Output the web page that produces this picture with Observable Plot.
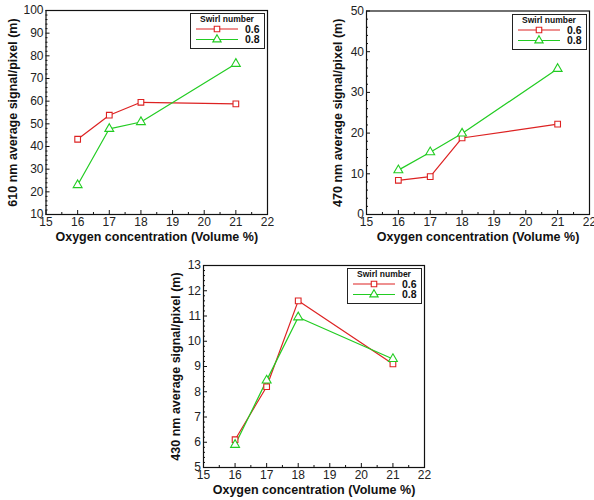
<!DOCTYPE html>
<html><head><meta charset="utf-8">
<script src="https://cdn.jsdelivr.net/npm/d3@7"></script>
<script src="https://cdn.jsdelivr.net/npm/@observablehq/plot@0.6"></script>
<style>
body{margin:0;background:#fff;font-family:"Liberation Sans",Arial,sans-serif;}
#root{position:relative;width:594px;height:500px;overflow:hidden;}
.pan{position:absolute;overflow:visible;}
.leg{position:absolute;}
</style></head>
<body><div id="root"></div>
<script>
// ---- data ----
const oxygen = [16, 17, 18, 21];
const swirlNumbers = ["0.6", "0.8"];
const xMajor = [15, 16, 17, 18, 19, 20, 21, 22];
const xMinor = [15.5, 16.5, 17.5, 18.5, 19.5, 20.5, 21.5];
const xTitle = "Oxygen concentration (Volume %)";

const s610_06 = [43.2, 53.8, 59.5, 58.8];
const s610_08 = [23.0, 47.8, 50.8, 76.5];
const s470_06 = [8.4, 9.3, 18.8, 22.2];
const s470_08 = [10.9, 15.3, 19.9, 35.8];
const s430_06 = [6.1, 8.2, 11.6, 9.1];
const s430_08 = [5.9, 8.45, 10.95, 9.3];

const y610Major = [10, 20, 30, 40, 50, 60, 70, 80, 90, 100];
const y470Major = [0, 10, 20, 30, 40, 50];
const y430Major = [5, 6, 7, 8, 9, 10, 11, 12, 13];

const colors = {"0.6": "#dd2222", "0.8": "#22cc22"};
const symbols = {"0.6": "square", "0.8": "triangle"};

function minorTicks(major, n) {
  const out = [];
  for (let i = 0; i < major.length - 1; i++) {
    const a = major[i], b = major[i + 1];
    for (let k = 1; k < n; k++) out.push(a + (b - a) * k / n);
  }
  return out;
}

const root = document.getElementById("root");

function panel(cfg) {
  const rows = [];
  cfg.series.forEach((vals, si) => {
    vals.forEach((v, i) => rows.push({x: oxygen[i], y: v, s: swirlNumbers[si]}));
  });
  const yMinor = minorTicks(cfg.yMajor, cfg.nMinor);
  const chart = Plot.plot({
    width: cfg.width, height: cfg.height,
    marginLeft: cfg.ml, marginRight: cfg.mr, marginTop: cfg.mt, marginBottom: cfg.mb,
    style: {fontFamily: '"Liberation Sans", Arial, sans-serif', background: "transparent", overflow: "visible"},
    x: {domain: [15, 22]},
    y: {domain: cfg.yDomain},
    marks: [
      Plot.axisX(xMajor, {tickSize: -4, tickPadding: 7, fontSize: 12, fill: "#222", stroke: "#111", label: null}),
      Plot.axisX(xMinor, {tickSize: -2, text: null, stroke: "#111", label: null}),
      Plot.axisY(cfg.yMajor, {tickSize: -4, tickPadding: 6.5, fontSize: 12, fill: "#222", stroke: "#111", label: null}),
      Plot.axisY(yMinor, {tickSize: -2, text: null, stroke: "#111", label: null}),
      Plot.frame({stroke: "#111", strokeWidth: 1.2}),
      ...swirlNumbers.map(s => Plot.line(rows.filter(d => d.s === s), {x: "x", y: "y", stroke: colors[s], strokeWidth: 1.2})),
      ...swirlNumbers.map(s => Plot.dot(rows.filter(d => d.s === s), {x: "x", y: "y", symbol: symbols[s], r: s === "0.6" ? 3.2 : 3.3, stroke: colors[s], fill: "white", strokeWidth: 1.1})),
      Plot.text([xTitle], {frameAnchor: "bottom", dy: 26, fontWeight: "bold", fontSize: 12.5, fill: "#111"}),
      Plot.text([cfg.yTitle], {frameAnchor: "left", dx: -cfg.yTitleOff, rotate: -90, textAnchor: "middle", fontWeight: "bold", fontSize: 12.5, fill: "#111"})
    ]
  });
  chart.classList.add("pan");
  chart.style.left = cfg.left + "px";
  chart.style.top = cfg.top + "px";
  root.appendChild(chart);

  // legend box
  const lw = 75, lh = 36;
  const leg = d3.create("svg").attr("class", "leg").attr("width", lw).attr("height", lh)
    .style("left", (cfg.left + cfg.width - cfg.mr - lw - 2) + "px")
    .style("top", (cfg.top + cfg.mt + 3) + "px");
  leg.append("rect").attr("x", 0.5).attr("y", 0.5).attr("width", lw - 1).attr("height", lh - 1)
    .attr("fill", "white").attr("stroke", "#222").attr("stroke-width", 1);
  leg.append("text").attr("x", 37).attr("y", 9).attr("text-anchor", "middle")
    .attr("font-size", 8.5).attr("font-weight", "bold").attr("fill", "#111").text("Swirl number");
  swirlNumbers.forEach((s, i) => {
    const yy = 16 + i * 10.5;
    leg.append("line").attr("x1", 6).attr("x2", 48).attr("y1", yy).attr("y2", yy)
      .attr("stroke", colors[s]).attr("stroke-width", 1.2);
    const sym = d3.symbol(s === "0.6" ? d3.symbolSquare : d3.symbolTriangle, 30);
    leg.append("path").attr("d", sym()).attr("transform", `translate(27,${yy})`)
      .attr("fill", "white").attr("stroke", colors[s]).attr("stroke-width", 1.1);
    leg.append("text").attr("x", 55).attr("y", yy + 3.5).attr("font-size", 10.5)
      .attr("font-weight", "bold").attr("fill", "#111").text(s);
  });
  root.appendChild(leg.node());
}

panel({left: 0, top: 0, width: 297, height: 250, ml: 45.5, mr: 30, mt: 10, mb: 36,
  yDomain: [10, 100], yMajor: y610Major, nMinor: 5, series: [s610_06, s610_08],
  yTitle: "610 nm average signal/pixel (m)", yTitleOff: 33});
panel({left: 297, top: 0, width: 297, height: 250, ml: 69, mr: 5, mt: 10.5, mb: 36,
  yDomain: [0, 50], yMajor: y470Major, nMinor: 5, series: [s470_06, s470_08],
  yTitle: "470 nm average signal/pixel (m)", yTitleOff: 29});
panel({left: 150, top: 255, width: 297, height: 245, ml: 53, mr: 23, mt: 10, mb: 33,
  yDomain: [5, 13], yMajor: y430Major, nMinor: 5, series: [s430_06, s430_08],
  yTitle: "430 nm average signal/pixel (m)", yTitleOff: 28});
</script></body></html>
